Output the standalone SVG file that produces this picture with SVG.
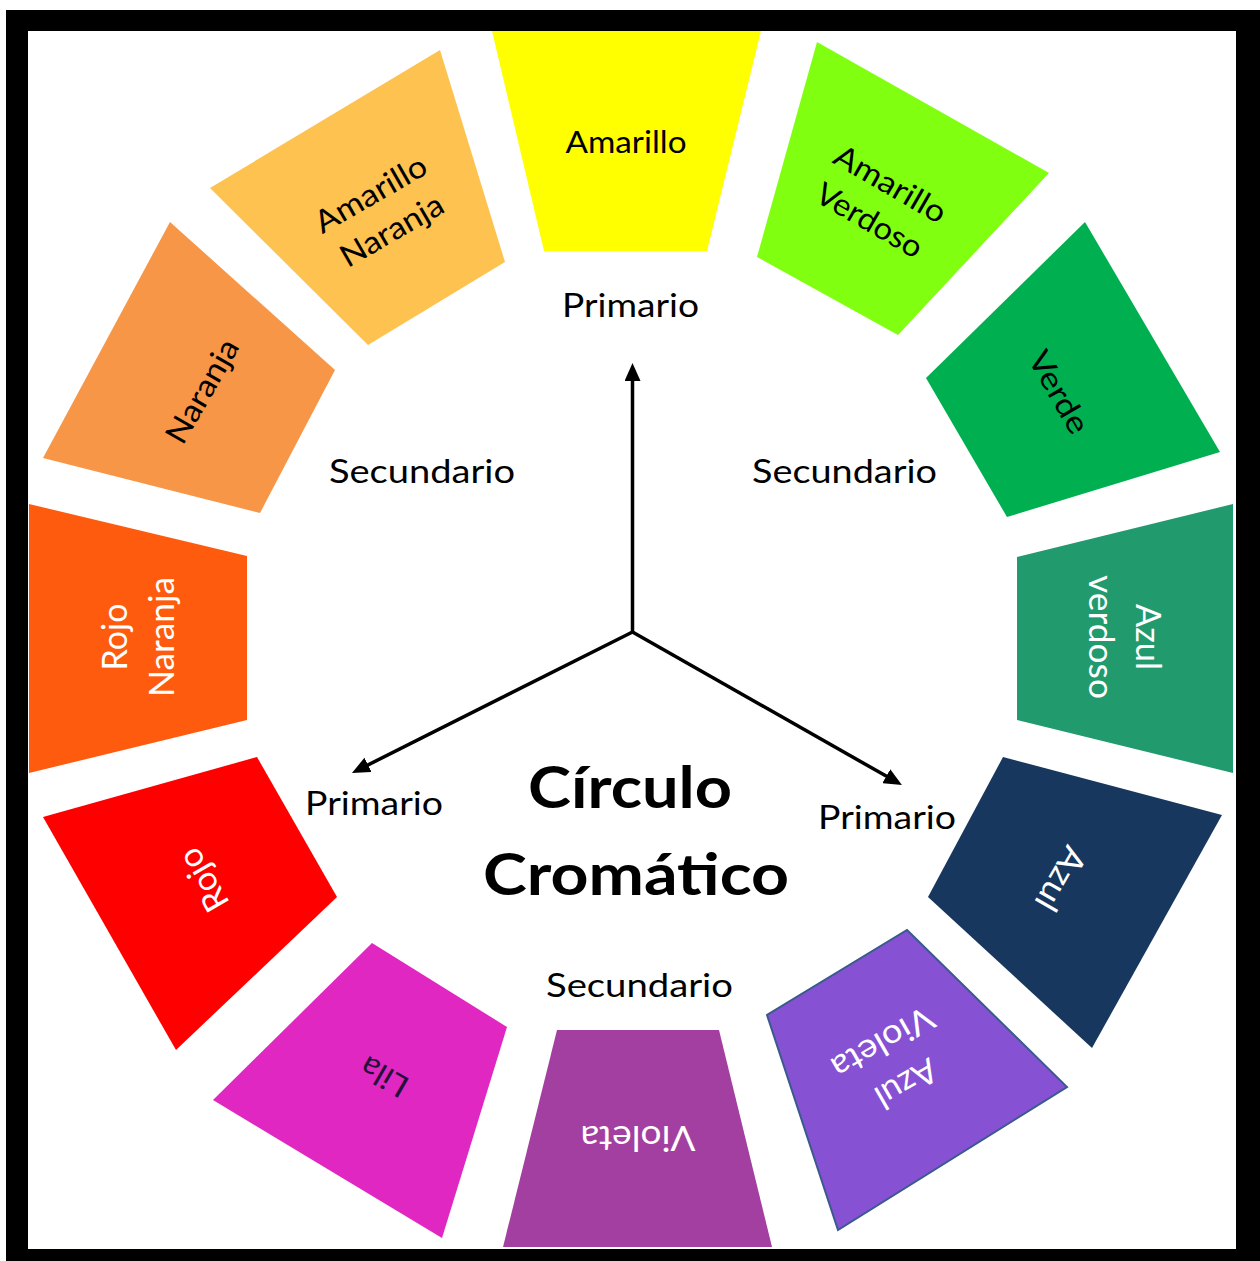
<svg xmlns="http://www.w3.org/2000/svg" width="1260" height="1261" viewBox="0 0 1260 1261">
<style>
.lbl{font-family:Lato,"Open Sans","Liberation Sans",sans-serif;text-anchor:middle}
.blk{fill:#000;font-size:31px}
.wht{fill:#fff;font-size:34px}
.dk{fill:#22103a;font-size:31px}
.ctr{font-family:Lato,"Open Sans","Liberation Sans",sans-serif;font-size:33px;fill:#000}
.title{font-family:Lato,"Open Sans","Liberation Sans",sans-serif;font-size:58px;font-weight:bold;fill:#000}
.conn{stroke:#000;stroke-width:3.5;fill:none;marker-end:url(#ah)}
</style>
<defs>
<marker id="ah" markerUnits="userSpaceOnUse" markerWidth="18" markerHeight="16" refX="10" refY="8" orient="auto" viewBox="0 0 18 16">
<path d="M0,0 L18,8 L0,16 Z" fill="#000"/>
</marker>
</defs>
<rect x="0" y="0" width="1260" height="1261" fill="#fff"/>
<rect x="6" y="10" width="1254" height="1251" fill="#000"/>
<rect x="28" y="31" width="1208" height="1218" fill="#fff"/>

<g id="amarillo">
<polygon points="492,31 761,31 707,251 544,251" fill="#FFFF00"/>
<g transform="translate(626,141)"><text class="lbl blk" x="0" y="12" textLength="121" lengthAdjust="spacingAndGlyphs">Amarillo</text></g>
</g>
<g id="amarillo-verdoso">
<polygon points="817,42 1049,173 898,335 757,257" fill="#80FF10"/>
<g transform="translate(880,202) rotate(30)"><text class="lbl blk" x="0" y="-10" textLength="124" lengthAdjust="spacingAndGlyphs">Amarillo</text><text class="lbl blk" x="0" y="32" textLength="118" lengthAdjust="spacingAndGlyphs">Verdoso</text></g>
</g>
<g id="verde">
<polygon points="1085,222 1220,452 1007,517 926,378" fill="#00B050"/>
<g transform="translate(1059,392) rotate(60)"><text class="lbl blk" x="0" y="11" textLength="90" lengthAdjust="spacingAndGlyphs">Verde</text></g>
</g>
<g id="azul-verdoso">
<polygon points="1017,557 1233,504 1233,773 1017,720" fill="#219A6D"/>
<g transform="translate(1125,637) rotate(90)"><text class="lbl wht" x="0" y="-11" textLength="66" lengthAdjust="spacingAndGlyphs">Azul</text><text class="lbl wht" x="0" y="36" textLength="124" lengthAdjust="spacingAndGlyphs">verdoso</text></g>
</g>
<g id="azul">
<polygon points="1003,757 1222,815 1092,1048 928,897" fill="#17375E"/>
<g transform="translate(1061,879) rotate(120)"><text class="lbl wht" x="0" y="12" textLength="68" lengthAdjust="spacingAndGlyphs">Azul</text></g>
</g>
<g id="azul-violeta">
<polygon points="907,930 1067,1087 838,1230 767,1015" fill="#8751D3" stroke="#3A5A8E" stroke-width="2"/>
<g transform="translate(895,1064) rotate(150)"><text class="lbl wht" x="0" y="-11" textLength="66" lengthAdjust="spacingAndGlyphs">Azul</text><text class="lbl wht" x="0" y="36" textLength="112" lengthAdjust="spacingAndGlyphs">Violeta</text></g>
</g>
<g id="violeta">
<polygon points="557,1030 719,1030 772,1247 503,1247" fill="#A33FA0"/>
<g transform="translate(638,1138) rotate(180)"><text class="lbl wht" x="0" y="12" textLength="115" lengthAdjust="spacingAndGlyphs">Violeta</text></g>
</g>
<g id="lila">
<polygon points="372,943 507,1027 442,1238 213,1100" fill="#E027C1"/>
<g transform="translate(384,1077) rotate(210)"><text class="lbl dk" x="0" y="11" textLength="50" lengthAdjust="spacingAndGlyphs">Lila</text></g>
</g>
<g id="rojo">
<polygon points="43,817 257,757 337,897 176,1050" fill="#FF0000"/>
<g transform="translate(203,880) rotate(240)"><text class="lbl wht" x="0" y="12" textLength="67" lengthAdjust="spacingAndGlyphs">Rojo</text></g>
</g>
<g id="rojo-naranja">
<polygon points="29,504 247,556 247,720 29,773" fill="#FF5B0E"/>
<g transform="translate(138,637) rotate(270)"><text class="lbl wht" x="0" y="-11" textLength="67" lengthAdjust="spacingAndGlyphs">Rojo</text><text class="lbl wht" x="0" y="36" textLength="120" lengthAdjust="spacingAndGlyphs">Naranja</text></g>
</g>
<g id="naranja">
<polygon points="170,222 335,370 260,513 43,458" fill="#F79646"/>
<g transform="translate(202,391) rotate(300)"><text class="lbl blk" x="0" y="11" textLength="115" lengthAdjust="spacingAndGlyphs">Naranja</text></g>
</g>
<g id="amarillo-naranja">
<polygon points="210,188 440,50 505,262 368,345" fill="#FEC250"/>
<g transform="translate(381,212) rotate(330)"><text class="lbl blk" x="0" y="-10" textLength="124" lengthAdjust="spacingAndGlyphs">Amarillo</text><text class="lbl blk" x="0" y="32" textLength="114" lengthAdjust="spacingAndGlyphs">Naranja</text></g>
</g>

<g id="connectors">
<line class="conn" x1="632.5" y1="633" x2="632.5" y2="371"/>
<line class="conn" x1="632.5" y1="632" x2="359.1" y2="769.4"/>
<line class="conn" x1="632.5" y1="632" x2="895" y2="781.1"/>
</g>

<g id="labels">
<text class="ctr" x="562" y="317" textLength="137" lengthAdjust="spacingAndGlyphs">Primario</text>
<text class="ctr" x="329" y="483" textLength="186" lengthAdjust="spacingAndGlyphs">Secundario</text>
<text class="ctr" x="752" y="483" textLength="185" lengthAdjust="spacingAndGlyphs">Secundario</text>
<text class="ctr" x="305" y="815" textLength="138" lengthAdjust="spacingAndGlyphs">Primario</text>
<text class="ctr" x="818" y="829" textLength="138" lengthAdjust="spacingAndGlyphs">Primario</text>
<text class="ctr" x="546" y="997" textLength="187" lengthAdjust="spacingAndGlyphs">Secundario</text>
</g>
<g id="title">
<text class="title" x="528" y="808" textLength="204" lengthAdjust="spacingAndGlyphs">Círculo</text>
<text class="title" x="483" y="895" textLength="306" lengthAdjust="spacingAndGlyphs">Cromático</text>
</g>
</svg>
